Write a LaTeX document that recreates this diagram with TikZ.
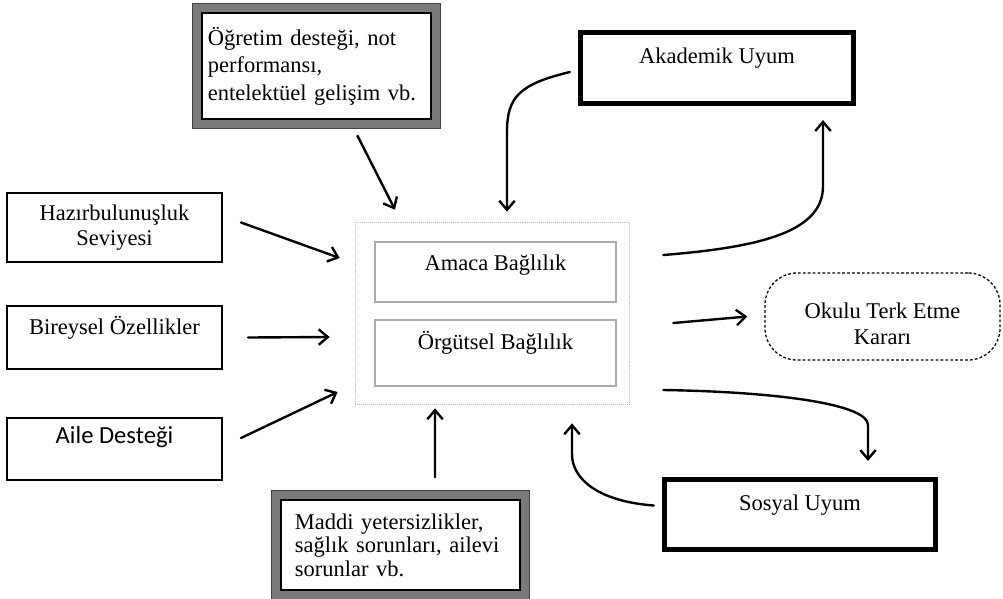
\documentclass[tikz,border=0pt]{standalone}
\usepackage{fontspec}
\setmainfont{Liberation Serif}
\newfontfamily\calibri{Carlito}
\usetikzlibrary{arrows.meta,calc}

\tikzset{
  txt/.style={font=\fontsize{16}{19.5}\selectfont},
  lift/.style={text depth=#1},
  plainbox/.style={draw, line width=1.4pt, fill=white, align=center, txt,
    minimum width=5.375cm},
  thickbox/.style={draw, line width=3.6pt, fill=white, align=center, txt},
  innerbox/.style={draw=gray!65, line width=0.8pt, fill=white, txt,
    minimum width=6.025cm},
  framebox/.style={preaction={draw=black!75, line width=0.5cm},
    preaction={draw=black!52, line width=0.44cm},
    draw, line width=1.2pt, fill=white, align=left, txt},
  arr/.style={-{Straight Barb[length=6.5pt,width=11pt]}, line width=1.7pt,
    line cap=round}
}

\begin{document}
\begin{tikzpicture}[x=0.025cm, y=-0.025cm]
  \useasboundingbox (0,0) rectangle (1003,598);
  % centre block
  \node[draw=gray!55, densely dotted, minimum width=6.85cm,
    minimum height=4.55cm] (merkez) at (492,313) {};
  \node[innerbox, minimum height=1.5cm, lift=0.47cm] (amaca) at (495.5,272)
    {Amaca Bağlılık};
  \node[innerbox, minimum height=1.65cm, lift=0.62cm] (orgutsel) at (495.5,353)
    {Örgütsel Bağlılık};
  % left side
  \node[plainbox, minimum height=1.725cm, font=\fontsize{16}{17.6}\selectfont]
    (hazir) at (114.5,227.5) {Hazırbulunuşluk\\Seviyesi};
  \node[plainbox, minimum height=1.575cm, lift=0.62cm] (bireysel) at (114.5,337.5)
    {Bireysel Özellikler};
  \node[plainbox, minimum height=1.55cm, lift=0.72cm,
    font=\calibri\fontsize{17.5}{20}\selectfont] (aile) at (114.5,449)
    {Aile Desteği};
  % framed boxes
  \node[framebox, minimum height=2.65cm, inner xsep=0.15cm, text width=5.425cm]
    (ogretim) at (316.5,66)
    {Öğretim desteği, not\\performansı,\\entelektüel gelişim vb.};
  \node[framebox, minimum height=2.25cm, inner xsep=0.35cm, text width=5.275cm,
    font=\fontsize{16}{16.8}\selectfont]
    (maddi) at (400.5,545)
    {Maddi yetersizlikler,\\sağlık sorunları, ailevi\\sorunlar vb.};
  % right side
  \node[thickbox, minimum width=6.825cm, minimum height=1.775cm, lift=0.62cm]
    (akademik) at (717,68) {Akademik Uyum};
  \node[thickbox, minimum width=6.775cm, minimum height=1.75cm, lift=0.6cm]
    (sosyal) at (800,514.5) {Sosyal Uyum};
  \node[draw, dash pattern=on 2pt off 1.5pt, line width=0.9pt,
    rounded corners=0.8cm, minimum width=5.875cm, minimum height=2.175cm,
    align=center, text height=1.42cm, font=\fontsize{16}{19}\selectfont]
    (okul) at (882.5,316.5) {Okulu Terk Etme\\Kararı};
  % arrows into the centre
  \draw[arr] ($(hazir.east)+(18,-5)$) -- ($(merkez.west)+(-15,-55)$);
  \draw[arr] ($(bireysel.east)+(25,0)$) -- ($(merkez.west)+(-25,24)$);
  \draw[arr] ($(aile.east)+(18,-11)$) -- ($(merkez.west)+(-17,79)$);
  \draw[arr] ($(ogretim.south)+(41,16)$) -- ($(merkez.north)+(-97,-12)$);
  \draw[arr] ($(maddi.north)+(34.5,-22)$) -- ($(merkez.south)+(-57,4)$);
  \draw[arr] ($(akademik.west)+(-8,4)$) .. controls +(-50,12) and +(0,-35) ..
    ($(merkez.north)+(15,-90)$) -- ($(merkez.north)+(15,-10)$);
  \draw[arr] ($(sosyal.west)+(-8,-9)$) .. controls +(-55,-4) and +(0,25) ..
    ($(merkez.south)+(80,50)$) -- ($(merkez.south)+(80,19)$);
  % arrows out of the centre
  \draw[arr] ($(merkez.east)+(34,-58)$) .. controls +(100,-8) and +(0,45) ..
    ($(akademik.south)+(106,80)$) -- ($(akademik.south)+(106,14)$);
  \draw[arr] ($(merkez.east)+(44,10)$) -- ($(okul.west)+(-17,0)$);
  \draw[arr] ($(merkez.east)+(34,77)$) .. controls +(120,2) and +(0,-20) ..
    ($(sosyal.north)+(68,-52)$) -- ($(sosyal.north)+(68,-16)$);
\end{tikzpicture}
\end{document}
